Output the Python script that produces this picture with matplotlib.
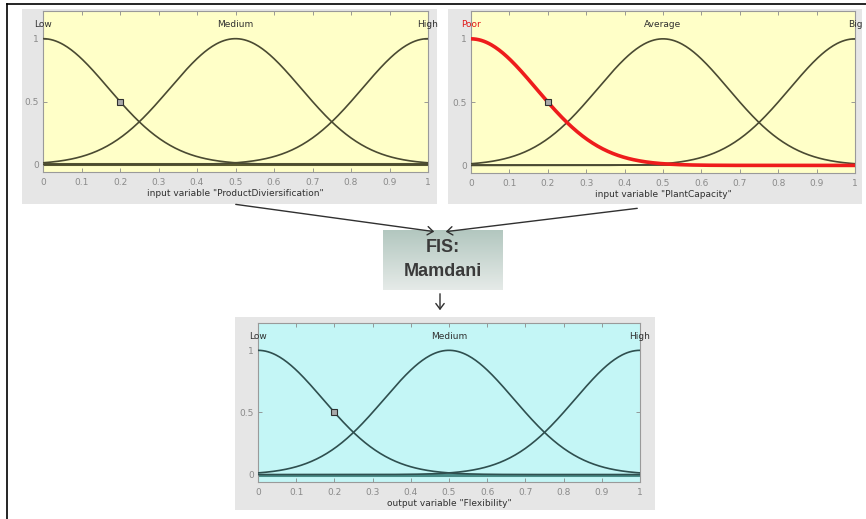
import matplotlib.pyplot as plt
import numpy as np
from matplotlib.patches import Rectangle, FancyArrowPatch
from matplotlib.lines import Line2D

W, H = 866, 519

# gaussian membership functions: same centers / width for every variable
in1_names = ["Low", "Medium", "High"]
in2_names = ["Poor", "Average", "Big"]
out_names = ["Low", "Medium", "High"]
mf_centers = [0.0, 0.5, 1.0]
mf_sigma = 0.17
x_ticks = [0, 0.1, 0.2, 0.3, 0.4, 0.5, 0.6, 0.7, 0.8, 0.9, 1]
x_tick_labels = ["0", "0.1", "0.2", "0.3", "0.4", "0.5", "0.6", "0.7", "0.8", "0.9", "1"]
y_ticks = [0, 0.5, 1]
y_tick_labels = ["0", "0.5", "1"]
cursor = (0.2, 0.5)

x = np.linspace(0, 1, 301)


def box(l, t, r, b):
    # pixel box (top-left origin) -> figure fraction
    return [l / W, 1 - b / H, (r - l) / W, (b - t) / H]


def fpt(px, py):
    return (px / W, 1 - py / H)


fig = plt.figure(figsize=(W / 100, H / 100), dpi=100)
fig.patch.set_facecolor("white")

# outer frame (top + left only)
fig.add_artist(Line2D([7 / W, 1], [1 - 4 / H, 1 - 4 / H], color="black", lw=1.2, transform=fig.transFigure))
fig.add_artist(Line2D([7 / W, 7 / W], [0, 1 - 4 / H], color="black", lw=1.2, transform=fig.transFigure))


def mf_panel(panel_px, ax_px, bg, line_col, zero_col, names, xlabel, selected=None):
    l, t, r, b = panel_px
    fig.add_artist(Rectangle((l / W, 1 - b / H), (r - l) / W, (b - t) / H,
                             transform=fig.transFigure, facecolor="#e6e6e6",
                             edgecolor="none", zorder=-5))
    ax = fig.add_axes(box(*ax_px))
    ax.set_facecolor(bg)
    ax.plot([0, 1], [0, 0], color=zero_col, lw=2.2 if selected is None else 1.2, zorder=2)
    for i, (name, c) in enumerate(zip(names, mf_centers)):
        y = np.exp(-(x - c) ** 2 / (2 * mf_sigma ** 2))
        if i == selected:
            ax.plot(x, y, color="#ee1c1c", lw=2.6, zorder=4)
            ax.text(c, 1.11, name, ha="center", va="center", fontsize=6.5, color="#e01818")
        else:
            ax.plot(x, y, color=line_col, lw=1.2, zorder=3)
            ax.text(c, 1.11, name, ha="center", va="center", fontsize=6.5, color="#303030")
    ax.plot(*cursor, "s", ms=4, mfc="#a8a8a8", mec="#303030", mew=0.8, zorder=5)
    ax.set_xlim(0, 1)
    ax.set_ylim(-0.06, 1.22)
    ax.set_xticks(x_ticks, x_tick_labels)
    ax.set_yticks(y_ticks, y_tick_labels)
    ax.tick_params(direction="in", length=3, width=0.6, top=True, right=True,
                   colors="#8a8a8a", labelsize=6.5, pad=4)
    ax.tick_params(axis="y", pad=3)
    for s in ax.spines.values():
        s.set_color("#9a9a9a")
        s.set_linewidth(0.8)
    ax.set_xlabel(xlabel, fontsize=6.5, color="#303030", labelpad=2)
    return ax


mf_panel((22, 9, 437, 204), (43, 11, 428, 172), "#ffffc8", "#4a4a32", "#5a5a30",
         in1_names, 'input variable "ProductDiviersification"')
mf_panel((448, 9, 862, 204), (471, 11, 855, 173), "#ffffc8", "#4a4a32", "#3a3a28",
         in2_names, 'input variable "PlantCapacity"', selected=0)
mf_panel((235, 317, 655, 510), (258, 323, 640, 482), "#c4f6f6", "#2f4f4f", "#4a8c88",
         out_names, 'output variable "Flexibility"')

# FIS box with vertical gradient
fis = fig.add_axes(box(383, 230, 503, 290))
grad = np.linspace(0, 1, 100).reshape(-1, 1)
top = np.array([0.70, 0.78, 0.75])
bot = np.array([0.90, 0.92, 0.91])
img = top + (bot - top) * grad[..., None]
fis.imshow(img.repeat(2, axis=1), aspect="auto", extent=[0, 1, 0, 1])
fis.axis("off")
fig.text(443 / W, 1 - 248 / H, "FIS:", ha="center", va="center", fontsize=13,
         fontweight="bold", family="Liberation Sans", color="#3a3a3a")
fig.text(443 / W, 1 - 272 / H, "Mamdani", ha="center", va="center", fontsize=13,
         fontweight="bold", family="Liberation Sans", color="#3a3a3a")

# arrows
for a, b in [((233, 204), (437, 232)), ((640, 208), (443, 232)), ((440, 291), (440, 313))]:
    fig.add_artist(FancyArrowPatch(fpt(*a), fpt(*b), transform=fig.transFigure,
                                   arrowstyle="->,head_length=4,head_width=3",
                                   color="#303030", lw=1.0, zorder=6))

fig.savefig("out.png", dpi=100)
